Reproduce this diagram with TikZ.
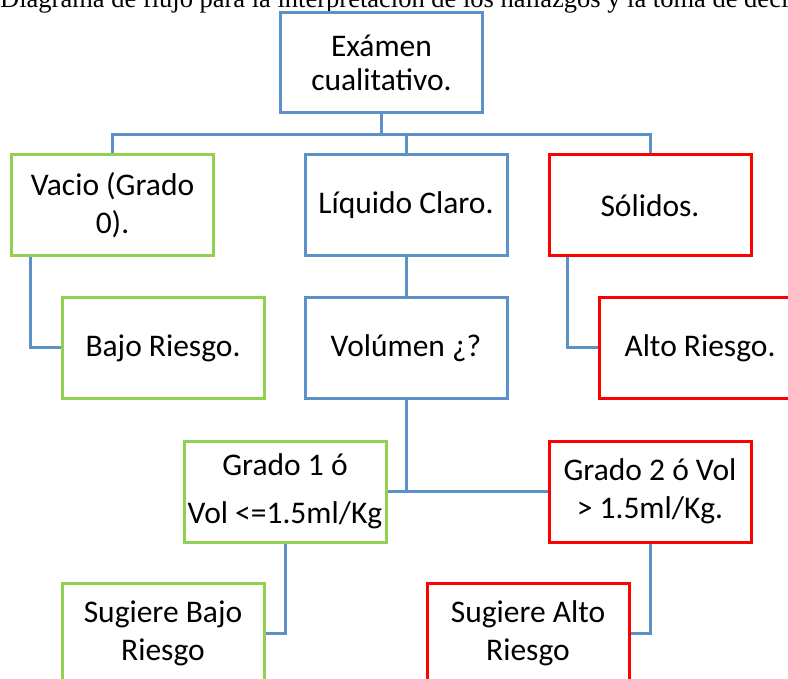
\documentclass[tikz,border=0pt]{standalone}
\usepackage{fontspec}
\setmainfont{Carlito}
\newfontfamily\ttlfont{Liberation Serif}
\usepackage{tikz}
\usetikzlibrary{positioning}
\definecolor{linkblue}{RGB}{91,144,200}
\definecolor{boxgreen}{RGB}{146,208,80}
\definecolor{boxred}{RGB}{255,0,0}

\begin{document}
\begin{tikzpicture}[x=1pt, y=-1pt,
      box/.style={draw, rectangle, line width=3pt, minimum width=202pt,
                  minimum height=101pt, inner sep=0pt, align=center,
                  font=\fontsize{31.5}{38}\selectfont},
      bluebox/.style={box, draw=linkblue},
      greenbox/.style={box, draw=boxgreen},
      redbox/.style={box, draw=boxred},
      conn/.style={draw=linkblue, line width=3pt},
    ]
    \useasboundingbox (0,0) rectangle (788,679);
    \clip (0,0) rectangle (788,679);
    \node[anchor=base west, inner sep=0pt, font=\ttlfont\fontsize{26.5}{30}\selectfont]
      (title) at (0,8) {Diagrama de flujo para la interpretación de los hallazgos y la toma de deci};
    \node[bluebox, minimum height=100pt] (exam) at (381.5,62.5) {Exámen\\[-4pt]cualitativo.};
    \node[greenbox] (vacio) at (112.5,205.5) {Vacio (Grado\\0).};
    \node[bluebox] (liquido) at (406,205.5) {Líquido Claro.};
    \node[redbox] (solidos) at (650,205.5) {Sólidos.};
    \node[greenbox] (bajo) at (163,348) {Bajo Riesgo.};
    \node[bluebox] (volumen) at (406,348) {Volúmen ¿?};
    \node[redbox] (alto) at (700,348) {Alto Riesgo.};
    \node[greenbox] (grado1) at (285,491.5) {Grado 1 ó\\[10pt]Vol <=1.5ml/Kg};
    \node[redbox] (grado2) at (650,491.5) {Grado 2 ó Vol\\> 1.5ml/Kg.};
    \node[greenbox] (sbajo) at (163,633.5) {Sugiere Bajo\\Riesgo};
    \node[redbox] (salto) at (528,633.5) {Sugiere Alto\\Riesgo};
    % connectors
    \draw[conn] (exam.south) -- ++(0,21) coordinate (bus);
    \draw[conn] (vacio.north) |- (bus) -| (solidos.north);
    \draw[conn] (bus -| liquido.north) -- (liquido.north);
    \draw[conn] ([xshift=20pt]vacio.south west) |- (bajo.west);
    \draw[conn] ([xshift=20pt]solidos.south west) |- (alto.west);
    \draw[conn] (liquido.south) -- (volumen.north);
    \draw[conn] (volumen.south) -- (volumen.south |- grado1.east);
    \draw[conn] (grado1.east) -- (grado2.west);
    \draw[conn] (grado1.south) |- (sbajo.east);
    \draw[conn] (grado2.south) |- (salto.east);
\end{tikzpicture}
\end{document}
